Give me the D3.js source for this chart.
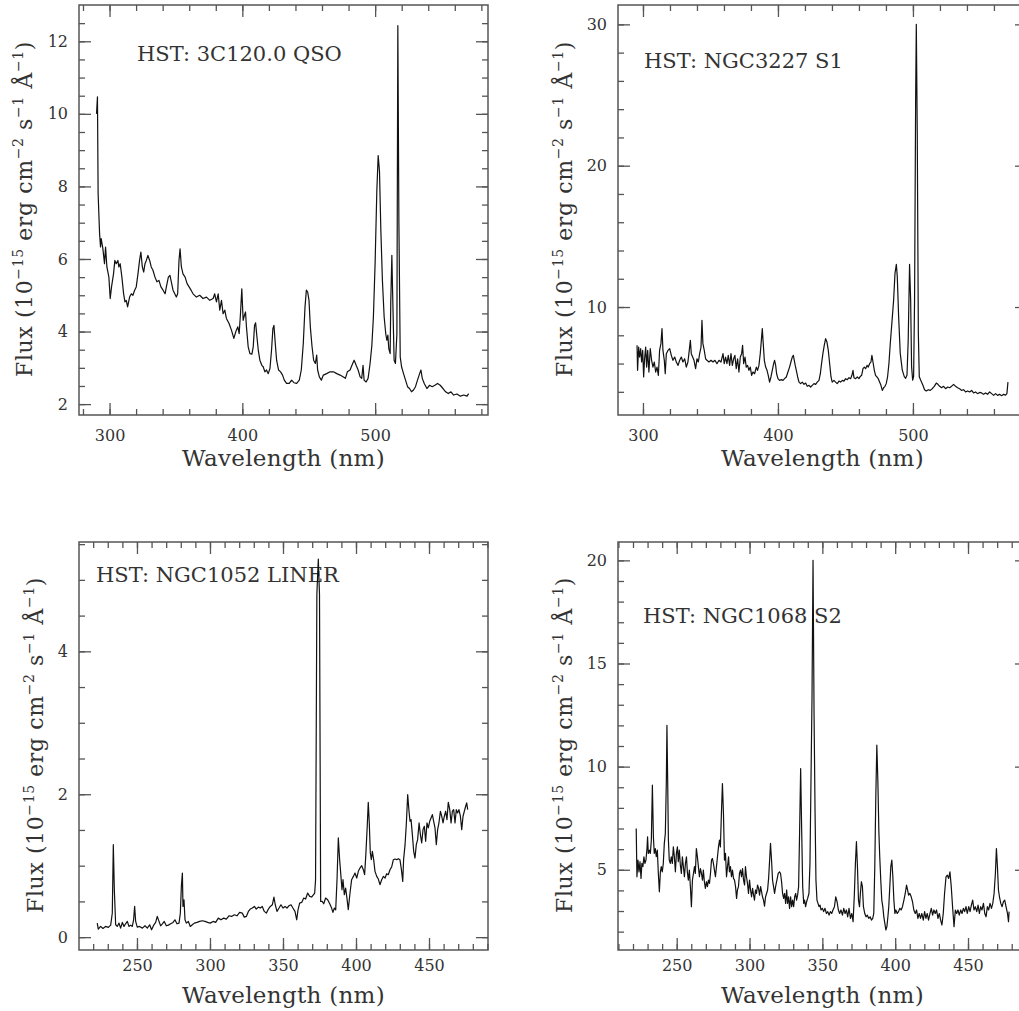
<!DOCTYPE html>
<html>
<head>
<meta charset="utf-8">
<script src="https://cdn.jsdelivr.net/npm/d3@7"></script>
<style>
  body { margin: 0; background: #fff; }
  svg { display: block; }
  text { font-family: "DejaVu Serif", serif; fill: #333; }
  .axis text { font-size: 16px; }
  .axis line { stroke: #555; stroke-width: 1.3; }
</style>
</head>
<body>
<div id="chart"></div>
<script>
// Spectra: [wavelength nm, flux 1e-15 erg/cm2/s/A]
const qso3c120 = [
  [290.2,10.0],[290.9,10.47],[291.4,7.8],[292.5,6.7],[293.2,6.33],[293.7,6.56],[295,6.28],[296.2,5.87],[297,6.33],[298,5.78],
  [299.5,5.5],[300.5,4.91],[301.5,5.23],[303,5.59],[304,5.96],[305,5.87],[306.3,5.96],[307,5.78],[308,5.87],[309.3,5.5],
  [310.6,5.04],[311.6,4.82],[312.6,4.86],[313.6,4.68],[315.1,4.95],[316.4,5.04],[317.6,5.0],[318.9,5.14],[320.1,5.23],[321.4,5.59],
  [322.6,5.96],[323.6,6.19],[324.7,5.78],[325.7,5.64],[326.7,5.87],[327.7,5.96],[328.9,6.1],[330.2,5.96],[331.4,5.78],[332.7,5.69],
  [334.2,5.5],[335.7,5.37],[337.2,5.41],[338.7,5.23],[340.3,5.14],[341.8,5.04],[342.8,5.23],[344.3,5.5],[345.5,5.55],[346.8,5.32],
  [347.8,5.14],[349.1,5.04],[350.3,4.95],[351.3,5.04],[352.3,5.96],[353.1,6.28],[354.1,5.78],[355.3,5.59],[356.9,5.5],[358.4,5.32],
  [359.9,5.23],[361.4,5.14],[362.9,5.04],[365.4,4.95],[367.9,5.0],[370.4,4.91],[373,4.95],[375.5,4.86],[378,4.91],[379.2,5.04],
  [380.5,4.82],[381.8,5.04],[383,4.59],[384.3,4.86],[385.5,4.49],[386.8,4.59],[388,4.36],[390,4.22],[391.8,4.04],[393.6,3.81],
  [395.1,4.0],[396.6,4.13],[397.6,3.94],[398.6,4.49],[399.6,5.18],[400.6,4.31],[401.6,4.45],[402.4,4.54],[403.1,4.13],[404.4,3.58],
  [405.7,3.39],[407.2,3.38],[408.2,3.58],[409.2,4.17],[410,4.24],[411,3.85],[412,3.49],[413.2,3.21],[414.7,3.07],[415.7,3.03],
  [417,2.89],[418.2,2.94],[419.5,2.84],[420.8,2.98],[422,3.49],[423,4.08],[423.8,4.17],[424.8,3.67],[425.8,3.21],[427.3,2.94],
  [428.8,2.89],[430.3,2.8],[431.6,2.66],[433.3,2.57],[435.3,2.57],[437.1,2.66],[438.9,2.59],[440.9,2.57],[442.9,2.66],[444.4,2.94],
  [445.9,3.67],[447.2,4.68],[448.2,5.14],[449.2,5.09],[450.2,4.86],[451.2,4.13],[452.5,3.58],[453.7,3.21],[455,3.12],[456,3.35],
  [456.7,2.94],[458,2.75],[459.5,2.66],[461,2.8],[463.5,2.84],[466,2.89],[468.6,2.89],[471.1,2.84],[473.6,2.8],[476.1,2.75],
  [477.6,2.71],[479.1,2.89],[481.1,2.94],[483.1,3.12],[484.2,3.21],[485.7,3.07],[487.2,2.94],[488.7,2.75],[489.9,2.71],[490.9,3.07],
  [491.7,2.66],[493.2,2.61],[494.7,2.71],[496.2,3.12],[497.5,3.6],[498.7,4.4],[500,5.9],[501.3,7.9],[502.3,8.85],[503.3,8.4],
  [504.3,6.8],[505.5,5.4],[506.8,4.4],[508,3.94],[508.8,3.76],[509.6,3.9],[510.3,3.53],[511.3,3.39],[511.8,4.86],[512.6,6.1],
  [513.3,4.86],[514.3,3.21],[515.3,3.12],[516.4,3.94],[517.1,12.43],[517.9,7.0],[518.9,3.3],[519.9,3.03],[521.4,2.84],[522.9,2.66],
  [524.4,2.48],[525.9,2.43],[527.4,2.34],[528.9,2.39],[530.4,2.48],[531.9,2.66],[533.5,2.84],[534.5,2.94],[535.5,2.71],[537,2.57],
  [539,2.43],[541,2.52],[543,2.48],[545,2.52],[547,2.57],[549,2.52],[551.1,2.43],[553.1,2.34],[555.1,2.29],[557.1,2.34],
  [559.1,2.25],[561.6,2.28],[564.2,2.22],[566.7,2.25],[569.2,2.22],[570.4,2.29]
];

const ngc3227 = [
  [295.6,7.29],[296,5.52],[296.8,7.17],[297.5,6.46],[298.3,7.05],[299,6.11],[299.8,6.93],[300.5,5.05],[301.2,6.34],[302,7.17],
  [302.7,5.75],[303.5,6.93],[304.4,5.4],[305.4,7.05],[306.4,6.23],[307.4,5.75],[308.4,6.11],[309.4,5.4],[310.4,5.75],[311.4,5.17],
  [312.3,6.93],[313.3,7.41],[314.1,8.47],[314.8,6.93],[315.8,6.23],[316.5,5.28],[317.3,6.7],[318.5,6.93],[319.8,7.05],[321,6.58],
  [322.2,6.23],[323.5,6.46],[324.7,6.11],[326,5.87],[327.2,6.23],[328.4,6.46],[329.6,6.11],[330.9,6.34],[332.1,5.75],[333.3,6.11],
  [334.3,6.93],[335.1,7.64],[335.8,6.7],[336.8,6.46],[337.8,6.23],[339,5.64],[340,6.34],[341,6.11],[342,6.7],[343,7.17],
  [343.7,9.06],[344.4,7.41],[345.4,6.93],[346.4,6.34],[347.4,6.23],[348.9,6.11],[350.4,6.23],[351.9,6.11],[353.3,6.23],[354.8,5.99],
  [356.3,6.23],[357.8,6.11],[359.3,6.7],[360.2,5.99],[361.2,6.46],[362.2,5.99],[363.2,6.58],[364.2,5.87],[365.2,6.7],[366.2,5.87],
  [367.2,6.34],[368.1,6.58],[369.1,5.64],[370.1,6.34],[371.1,5.4],[372.1,6.46],[373.1,6.7],[373.8,7.29],[374.6,5.99],[375.6,6.46],
  [376.5,5.75],[377.5,5.87],[378.5,5.52],[379.5,5.75],[380.5,5.17],[381.5,5.4],[382.7,5.28],[384,5.75],[384.9,5.52],[385.9,5.87],
  [386.9,6.7],[387.7,7.64],[388.4,8.47],[389.1,7.41],[389.9,6.23],[390.9,5.75],[391.9,5.52],[392.8,5.17],[393.8,4.69],[394.8,5.05],
  [395.8,5.52],[396.8,5.99],[397.5,6.23],[398.3,5.87],[399,5.28],[400,4.93],[401.2,4.81],[402.5,4.86],[403.7,4.81],[404.9,4.93],
  [406.2,5.05],[407.4,5.4],[408.6,5.75],[409.6,6.11],[410.6,6.46],[411.4,6.58],[412.1,6.23],[412.8,5.87],[413.6,5.52],[414.6,5.05],
  [415.6,4.69],[416.8,4.58],[418,4.69],[419.3,4.53],[420.5,4.62],[421.7,4.39],[423,4.46],[424.2,4.34],[425.4,4.46],[426.7,4.58],
  [427.9,4.53],[429.1,4.69],[430.4,4.81],[431.4,5.28],[432.3,5.99],[433.3,6.7],[434.3,7.29],[435.3,7.76],[436.3,7.52],[437.3,6.93],
  [438.3,5.99],[439.3,5.05],[440.2,4.69],[441.5,4.81],[442.7,4.69],[443.9,4.58],[445.2,4.76],[446.4,4.69],[447.7,4.81],[448.9,4.76],
  [450.1,4.93],[451.4,4.86],[452.6,5.0],[453.8,4.93],[454.8,5.17],[455.6,5.52],[456.3,5.0],[457.5,4.93],[458.8,5.05],[460,4.93],
  [461,5.09],[462,5.17],[463,5.64],[464,5.75],[465,5.64],[466,5.87],[466.9,5.75],[467.9,5.99],[468.9,6.11],[469.6,6.58],
  [470.4,6.11],[471.4,5.52],[472.3,5.17],[473.3,5.05],[474.3,4.93],[475.3,4.69],[476.3,4.46],[477.3,4.1],[478.3,4.29],[479.3,4.39],
  [480.2,4.58],[481.2,5.05],[482.2,5.99],[483.2,7.4],[484.5,9.0],[485.7,10.5],[486.7,12.38],[487.7,13.02],[488.4,12.15],[489.4,9.32],
  [490.6,6.72],[492.1,5.54],[493.6,5.07],[494.6,4.95],[495.6,5.19],[496.5,7.67],[497.5,13.02],[498.3,10.5],[499,5.78],[499.8,4.83],
  [500.5,5.07],[501.2,10.5],[502,24.65],[502.5,30.0],[503.2,22.29],[504,8.14],[504.7,5.07],[505.7,4.83],[507.4,4.46],[508.6,4.15],
  [509.9,4.06],[511.4,4.15],[512.8,4.1],[514.3,4.22],[515.8,4.39],[517.3,4.62],[518.5,4.53],[519.8,4.39],[521.2,4.29],[522.7,4.39],
  [524.2,4.22],[525.7,4.34],[527.2,4.29],[528.6,4.39],[530.1,4.53],[531.6,4.39],[533.1,4.29],[534.6,4.22],[536,4.1],[537.5,4.15],
  [539,3.99],[540.5,4.06],[542,3.99],[543.5,4.1],[544.9,3.92],[546.4,3.99],[547.9,3.87],[549.4,3.96],[550.9,3.92],[552.3,3.82],
  [553.8,3.92],[555.3,3.82],[556.8,3.99],[558.3,3.87],[559.8,3.75],[561.2,3.87],[562.7,3.75],[564.2,3.82],[565.7,3.73],[567.2,3.82],
  [568.6,3.77],[569.6,3.87],[570.4,4.69]
];

const ngc1052 = [
  [222.8,0.196],[223.5,0.112],[225.1,0.15],[226.7,0.121],[228.5,0.15],[230.4,0.136],[232,0.168],[233.1,0.336],[233.8,1.294],[234.5,0.664],
  [235.4,0.173],[236.5,0.15],[237.7,0.196],[238.8,0.126],[240,0.206],[241.1,0.15],[242.2,0.187],[243.4,0.22],[244.5,0.15],[245.7,0.168],
  [246.8,0.15],[247.7,0.243],[248.4,0.43],[249.1,0.22],[250.2,0.14],[251.8,0.15],[253.7,0.126],[255.5,0.159],[257.1,0.126],[258.7,0.173],
  [260,0.103],[261.6,0.173],[262.8,0.206],[263.9,0.29],[265.1,0.22],[266.2,0.159],[267.4,0.187],[268.7,0.22],[270.1,0.159],[271.5,0.168],
  [273.1,0.187],[274.7,0.206],[276,0.243],[277.4,0.187],[278.8,0.196],[279.7,0.336],[280.4,0.71],[281.1,0.897],[281.5,0.43],[282.2,0.523],
  [282.9,0.243],[283.8,0.196],[285.2,0.22],[286.5,0.15],[287.9,0.173],[289.3,0.196],[291.1,0.206],[292.9,0.22],[294.7,0.229],[296.6,0.22],
  [298.4,0.206],[300.2,0.196],[302.1,0.22],[303.9,0.206],[305.7,0.266],[307.5,0.243],[309.4,0.266],[311.2,0.252],[313,0.299],[314.8,0.29],
  [316.7,0.313],[318.5,0.299],[320.3,0.346],[322.1,0.336],[323.5,0.28],[324.9,0.29],[326.3,0.36],[327.6,0.393],[329,0.407],[330.4,0.43],
  [331.7,0.393],[333.1,0.42],[334.5,0.407],[335.8,0.43],[337.2,0.36],[338.6,0.336],[340,0.393],[341.3,0.43],[342.7,0.453],[343.8,0.561],
  [344.7,0.453],[345.9,0.36],[347.3,0.407],[348.6,0.453],[350,0.407],[351.4,0.43],[352.7,0.407],[354.1,0.439],[355.5,0.453],[356.8,0.407],
  [358.2,0.36],[359.4,0.243],[360.3,0.383],[361.4,0.477],[362.8,0.486],[364.2,0.547],[365.5,0.533],[366.9,0.617],[368.3,0.57],[369.6,0.561],
  [370.8,0.593],[371.7,0.617],[372.3,0.8],[373.2,4.8],[374.2,5.29],[375,4.8],[375.8,0.5],[376.8,0.5],[377.9,0.467],[379.2,0.547],
  [380.6,0.523],[382,0.467],[383.3,0.407],[384.2,0.346],[385.2,0.407],[386.1,0.383],[387,0.804],[387.9,1.388],[388.8,1.084],[389.7,0.85],
  [390.4,0.664],[391.1,0.804],[392,0.593],[392.9,0.687],[393.8,0.547],[394.7,0.383],[395.9,0.617],[397,0.804],[398.2,0.85],[399.3,0.897],
  [400.5,0.827],[401.6,0.921],[402.7,0.967],[403.9,1.0],[405,0.944],[405.9,0.874],[406.8,1.178],[407.8,1.598],[408.4,1.888],[409.1,1.598],
  [409.8,1.178],[410.5,1.084],[411.2,1.201],[412.1,1.084],[413,0.921],[414.2,0.85],[415.3,0.813],[416.4,0.734],[417.6,0.804],[418.7,0.85],
  [419.9,0.827],[421,0.888],[422.1,0.874],[423.3,0.944],[424.4,0.981],[425.6,1.084],[426.7,1.093],[427.9,1.084],[429,1.098],[430.1,1.084],
  [431.1,0.944],[432,0.78],[432.6,1.084],[433.6,1.294],[434.5,1.598],[435.4,1.995],[436.3,1.762],[437,1.621],[437.7,1.645],[438.6,1.435],
  [439.5,1.201],[440.4,1.107],[441.3,1.294],[442.2,1.364],[443.2,1.598],[444.1,1.435],[445,1.318],[445.9,1.505],[446.8,1.551],[447.7,1.341],
  [448.6,1.598],[449.5,1.528],[450.5,1.621],[451.4,1.668],[452.3,1.715],[453.2,1.621],[454.1,1.528],[455,1.294],[455.9,1.505],[456.8,1.598],
  [457.8,1.762],[458.7,1.692],[459.6,1.598],[460.5,1.692],[461.4,1.762],[462.3,1.645],[463.2,1.888],[464.2,1.785],[465.1,1.598],[466,1.762],
  [466.9,1.785],[467.8,1.598],[468.7,1.785],[469.6,1.738],[470.5,1.785],[471.5,1.692],[472.4,1.505],[473.3,1.692],[474.2,1.762],[475.1,1.832],
  [475.8,1.879],[476.5,1.785]
];

const ngc1068 = [
  [222.2,7.0],[222.7,4.66],[223.4,5.47],[224.1,4.9],[224.8,5.39],[225.5,4.58],[226.1,5.31],[226.8,5.15],[227.5,5.63],[228.2,5.31],
  [228.9,5.47],[229.6,6.03],[230,6.6],[230.5,5.79],[231.2,5.95],[231.9,5.79],[232.6,6.44],[233.3,9.1],[234,6.6],[234.6,5.79],
  [235.3,6.03],[236,5.63],[236.7,5.95],[237.4,4.82],[238.1,3.93],[238.8,4.9],[239.4,5.15],[240.1,4.9],[240.8,5.31],[241.5,6.28],
  [242.2,6.76],[242.9,9.34],[243.3,12.0],[243.8,9.34],[244.3,6.44],[244.9,5.47],[245.6,5.31],[246.3,5.63],[247,5.31],[247.7,6.11],
  [248.4,5.63],[249.1,4.9],[249.8,5.79],[250.5,6.11],[251.1,5.39],[251.8,5.95],[252.5,5.23],[253.2,4.82],[253.9,5.63],[254.6,5.15],
  [255.3,4.66],[256,5.31],[256.7,5.63],[257.3,4.9],[258,4.5],[258.7,4.98],[259.4,4.18],[260.1,3.21],[260.8,4.5],[261.5,4.82],
  [262.2,5.15],[262.8,4.82],[263.5,6.03],[264.2,5.63],[264.9,5.15],[265.6,4.66],[266.3,5.06],[267,4.82],[267.7,4.5],[268.3,4.98],
  [269,4.42],[269.7,4.1],[270.4,4.42],[271.1,4.18],[271.8,4.5],[272.5,4.34],[273.2,4.82],[273.9,5.47],[274.5,5.55],[275.2,5.31],
  [275.9,4.98],[276.6,4.66],[277.3,5.15],[278,5.63],[278.7,6.11],[279.4,6.44],[280,6.11],[280.7,7.73],[281.4,9.18],[282.1,7.73],
  [282.8,5.47],[283.5,5.79],[284.2,4.66],[284.9,5.15],[285.6,5.63],[286.2,4.9],[286.9,5.15],[287.6,4.66],[288.3,4.98],[289,4.58],
  [289.7,4.5],[290.4,4.18],[291.1,3.61],[291.7,4.02],[292.4,4.18],[293.1,4.82],[293.8,4.98],[294.5,4.66],[295.2,5.06],[295.9,4.5],
  [296.6,4.26],[297.2,5.15],[297.9,4.66],[298.6,4.34],[299.3,3.85],[300,4.5],[300.7,4.02],[301.4,3.69],[302.1,4.1],[302.8,3.77],
  [303.4,3.53],[304.1,4.02],[304.8,3.85],[305.5,4.26],[306.2,4.1],[306.9,3.77],[307.6,4.18],[308.3,3.93],[308.9,3.69],[309.6,3.53],
  [310.3,3.24],[311,3.69],[311.7,3.85],[312.4,4.02],[313.1,4.58],[313.8,5.47],[314.4,6.28],[315.1,5.47],[315.8,4.5],[316.5,4.18],
  [317.2,3.85],[317.9,4.18],[318.8,4.5],[319.7,4.82],[320.6,4.9],[321.3,4.82],[322,4.42],[322.7,3.85],[323.4,3.61],[324.1,3.85],
  [324.8,3.37],[325.5,4.02],[326.1,3.37],[326.8,3.69],[327.5,3.13],[328.2,3.69],[328.9,3.21],[329.6,3.53],[330.3,3.21],[331,3.69],
  [331.7,3.85],[332.3,3.53],[333,3.77],[333.7,4.18],[334.4,6.92],[335.1,9.91],[335.8,6.92],[336.5,4.18],[337.2,3.37],[337.8,3.53],
  [338.5,3.21],[339.2,3.45],[339.9,3.61],[340.8,3.85],[341.5,5.31],[342.2,9.34],[342.9,13.38],[343.6,20.0],[344.3,12.57],[345,7.73],
  [345.6,4.5],[346.3,3.53],[347,3.37],[347.7,3.21],[348.4,3.29],[349.1,3.05],[350,3.13],[350.9,2.97],[351.8,3.13],[352.8,2.88],
  [353.7,2.97],[354.6,2.8],[355.5,2.97],[356.4,2.88],[357.3,3.05],[358.3,3.21],[359.2,3.69],[360.1,3.45],[361,3.05],[361.9,2.88],
  [362.8,3.05],[363.8,2.8],[364.7,3.13],[365.6,2.88],[366.5,3.05],[367.4,2.72],[368.3,3.13],[369.3,2.64],[370.2,2.88],[371.1,2.48],
  [372,3.85],[372.7,5.31],[373.4,6.36],[374.1,5.15],[374.8,3.53],[375.5,3.21],[376.1,3.85],[376.8,4.42],[377.5,4.18],[378.2,3.21],
  [379.1,2.88],[380,2.72],[380.9,2.8],[381.9,2.64],[382.8,2.72],[383.7,2.56],[384.6,2.64],[385.3,2.88],[386,5.15],[386.7,8.54],
  [387.4,11.04],[388.1,9.34],[388.8,6.84],[389.4,5.63],[390.1,4.5],[390.8,3.53],[391.5,3.21],[392.2,2.72],[392.9,2.4],[393.6,2.08],
  [394.3,2.24],[395,2.72],[395.6,3.21],[396.3,4.18],[397,5.15],[397.7,5.47],[398.4,4.66],[399.1,3.53],[399.8,2.88],[400.5,3.05],
  [401.4,2.88],[402.3,2.97],[403.2,3.13],[404.1,3.05],[405,3.21],[406,3.53],[406.9,3.85],[407.8,4.26],[408.5,4.02],[409.2,3.77],
  [410.1,3.85],[411,3.69],[411.9,3.45],[412.8,3.05],[413.8,2.88],[414.7,3.05],[415.6,2.64],[416.5,2.88],[417.4,2.64],[418.3,2.88],
  [419.3,2.56],[420.2,2.97],[421.1,2.64],[422,2.88],[422.9,2.56],[423.9,2.88],[424.8,3.13],[425.7,2.8],[426.6,3.05],[427.5,2.88],
  [428.4,3.05],[429.4,2.64],[430.3,2.88],[431.2,2.56],[432.1,2.32],[433,2.88],[433.9,3.85],[434.9,4.66],[435.8,4.74],[436.7,4.58],
  [437.6,4.9],[438.5,4.18],[439.4,3.21],[440.4,2.24],[441.3,3.05],[442.2,2.88],[443.1,3.05],[444,2.8],[445,3.05],[445.9,2.88],
  [446.8,3.13],[447.7,2.97],[448.6,3.21],[449.5,2.88],[450.5,3.21],[451.4,2.97],[452.3,3.29],[453.2,3.53],[454.1,3.05],[455,3.21],
  [456,2.97],[456.9,3.29],[457.8,2.88],[458.7,3.21],[459.6,3.05],[460.6,3.37],[461.5,2.88],[462.4,2.72],[463.3,3.21],[464.2,3.05],
  [465.1,3.37],[466.1,3.13],[467,3.37],[467.9,3.85],[468.8,4.82],[469.5,6.03],[470.2,5.15],[470.9,4.02],[471.6,3.69],[472.5,3.37],
  [473.4,3.21],[474.3,3.45],[475.2,3.53],[476.1,3.21],[477.1,2.88],[477.8,2.48],[478.2,2.97]
];

const titles = ['HST: 3C120.0 QSO', 'HST: NGC3227 S1', 'HST: NGC1052 LINER', 'HST: NGC1068 S2'];
const xTicksTop = [300, 400, 500];
const xTicksBottom = [250, 300, 350, 400, 450];
const yTicks3c120 = [2, 4, 6, 8, 10, 12];
const yTicks3227 = [10, 20, 30];
const yTicks1052 = [0, 2, 4];
const yTicks1068 = [5, 10, 15, 20];

// label pieces: [text, superscript?]
const yLabelParts = [['Flux (10', false], ['\u221215', true], [' erg cm', false], ['\u22122', true],
  [' s', false], ['\u22121', true], [' \u00c5', false], ['\u22121', true], [')', false]];

const panelW = 409;
const panels = [
  { data: qso3c120, title: titles[0], left: 79, top: 5, height: 410, xDomain: [277, 585], yDomain: [1.7, 13],
    xTicks: xTicksTop, xMinor: 20, yTicks: yTicks3c120, yMinor: 0.5, titleX: 137, titleY: 61, yLabelX: 32, xPad: 15, xLabelY: 466 },
  { data: ngc3227, title: titles[1], left: 618, top: 5, height: 410, xDomain: [281.5, 584.5], yDomain: [2.36, 31.37],
    xTicks: xTicksTop, xMinor: 20, yTicks: yTicks3227, yMinor: 2, titleX: 644, titleY: 68, yLabelX: 572, xPad: 15, xLabelY: 466 },
  { data: ngc1052, title: titles[2], left: 79, top: 542, height: 408, xDomain: [210.3, 490.4], yDomain: [-0.18, 5.53],
    xTicks: xTicksBottom, xMinor: 10, yTicks: yTicks1052, yMinor: 0.5, titleX: 96, titleY: 582, yLabelX: 43, xPad: 10, xLabelY: 1003 },
  { data: ngc1068, title: titles[3], left: 618, top: 542, height: 408, xDomain: [209.7, 490.5], yDomain: [1.11, 20.89],
    xTicks: xTicksBottom, xMinor: 10, yTicks: yTicks1068, yMinor: 1, titleX: 643, titleY: 623, yLabelX: 572, xPad: 10, xLabelY: 1003 }
];

const svg = d3.select('#chart').append('svg')
  .attr('width', 1019)
  .attr('height', 1011);

function minorTicks(domain, step) {
  const start = Math.ceil(domain[0] / step) * step;
  return d3.range(start, domain[1], step).map(v => +v.toFixed(3));
}

function cleanAxis(sel) {
  sel.attr('class', 'axis').attr('font-size', null).attr('font-family', null);
  sel.select('.domain').remove();
}

panels.forEach(p => {
  const right = p.left + panelW;
  const bottom = p.top + p.height;
  const x = d3.scaleLinear().domain(p.xDomain).range([p.left, right]);
  const y = d3.scaleLinear().domain(p.yDomain).range([bottom, p.top]);
  const g = svg.append('g');

  const xm = minorTicks(p.xDomain, p.xMinor);
  const ym = minorTicks(p.yDomain, p.yMinor);

  // ticks on all four sides, pointing inwards
  g.append('g').attr('transform', `translate(0,${bottom})`)
    .call(d3.axisBottom(x).tickValues(xm).tickSize(-6).tickFormat('')).call(cleanAxis);
  g.append('g').attr('transform', `translate(0,${bottom})`)
    .call(d3.axisBottom(x).tickValues(p.xTicks).tickSize(-12).tickPadding(p.xPad).tickFormat(d3.format('d'))).call(cleanAxis);
  g.append('g').attr('transform', `translate(0,${p.top})`)
    .call(d3.axisTop(x).tickValues(xm).tickSize(-6).tickFormat('')).call(cleanAxis);
  g.append('g').attr('transform', `translate(0,${p.top})`)
    .call(d3.axisTop(x).tickValues(p.xTicks).tickSize(-12).tickFormat('')).call(cleanAxis);
  g.append('g').attr('transform', `translate(${p.left},0)`)
    .call(d3.axisLeft(y).tickValues(ym).tickSize(-6).tickFormat('')).call(cleanAxis);
  g.append('g').attr('transform', `translate(${p.left},0)`)
    .call(d3.axisLeft(y).tickValues(p.yTicks).tickSize(-12).tickPadding(11).tickFormat(d3.format('d'))).call(cleanAxis);
  g.append('g').attr('transform', `translate(${right},0)`)
    .call(d3.axisRight(y).tickValues(ym).tickSize(-6).tickFormat('')).call(cleanAxis);
  g.append('g').attr('transform', `translate(${right},0)`)
    .call(d3.axisRight(y).tickValues(p.yTicks).tickSize(-12).tickFormat('')).call(cleanAxis);

  g.append('rect')
    .attr('x', p.left).attr('y', p.top)
    .attr('width', panelW).attr('height', p.height)
    .attr('fill', 'none').attr('stroke', '#555').attr('stroke-width', 1.5);

  g.append('text')
    .attr('x', p.titleX).attr('y', p.titleY)
    .style('font-size', '21px')
    .text(p.title);

  const line = d3.line().x(d => x(d[0])).y(d => y(d[1]));
  g.append('path')
    .datum(p.data)
    .attr('d', line)
    .attr('fill', 'none')
    .attr('stroke', '#111')
    .attr('stroke-width', 1.2)
    .attr('stroke-linejoin', 'round');

  g.append('text')
    .attr('x', (p.left + right) / 2).attr('y', p.xLabelY)
    .attr('text-anchor', 'middle')
    .style('font-size', '23px')
    .style('letter-spacing', '0.3px')
    .text('Wavelength (nm)');

  const ylab = g.append('text')
    .attr('transform', `translate(${p.yLabelX},${(p.top + bottom) / 2 - 1}) rotate(-90)`)
    .attr('text-anchor', 'middle')
    .style('font-size', '22px')
    .style('letter-spacing', '0.6px');
  let raised = false;
  yLabelParts.forEach(([t, sup]) => {
    const ts = ylab.append('tspan').text(t);
    if (sup && !raised) { ts.attr('dy', -9).style('font-size', '14px'); raised = true; }
    else if (!sup && raised) { ts.attr('dy', 9); raised = false; }
  });
});
</script>
</body>
</html>
